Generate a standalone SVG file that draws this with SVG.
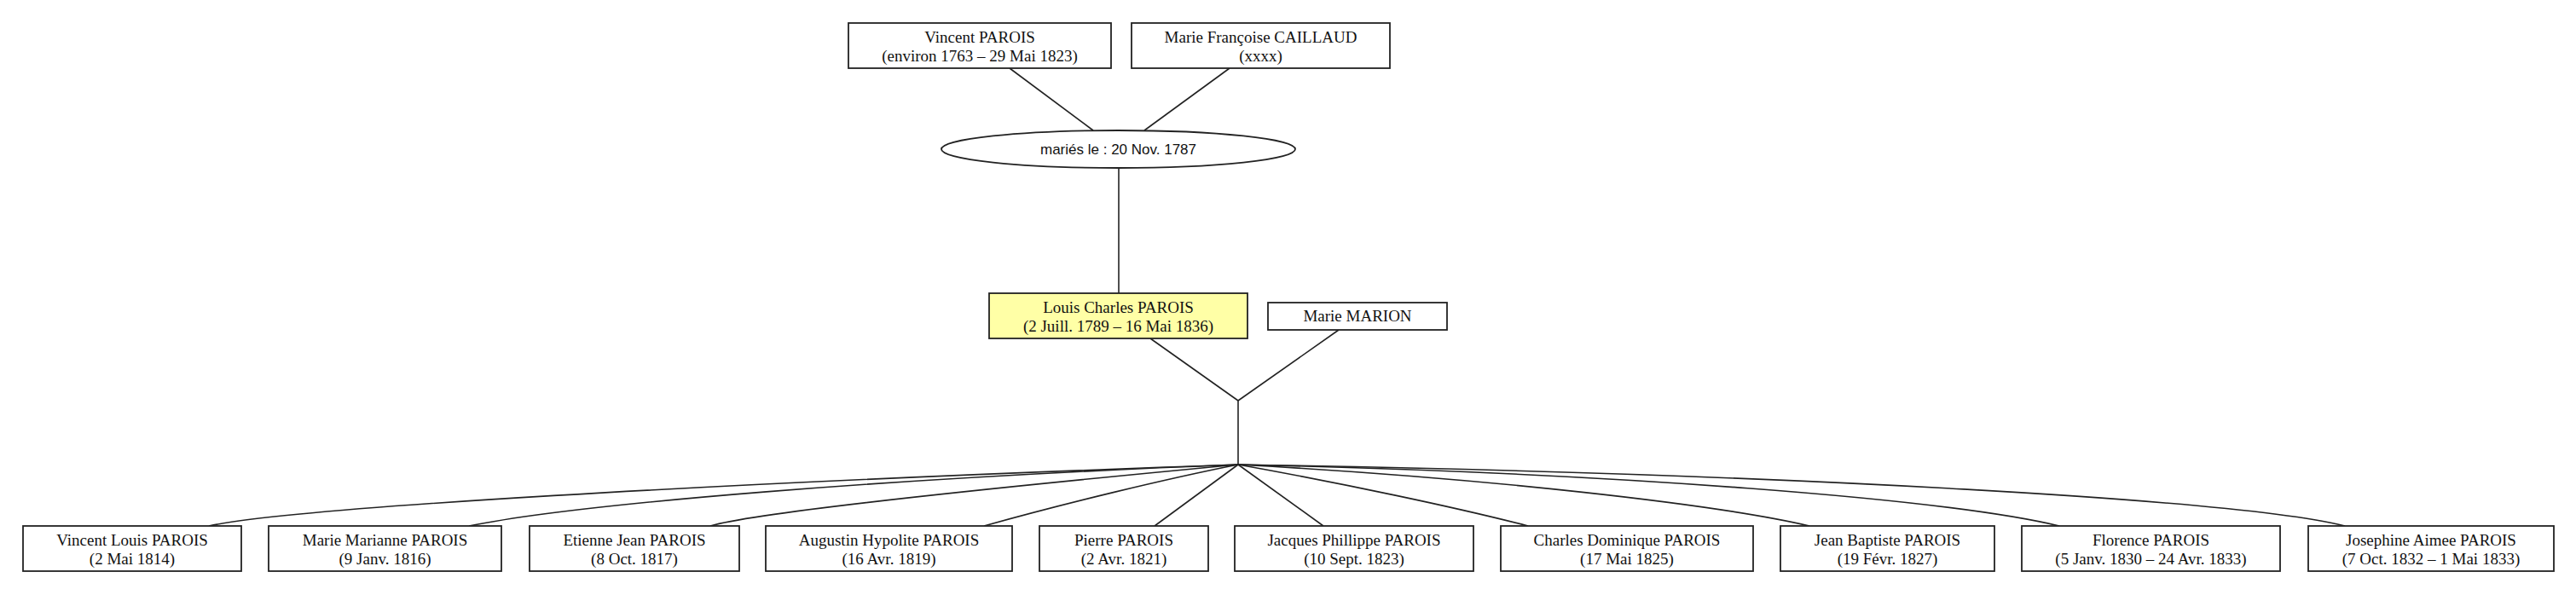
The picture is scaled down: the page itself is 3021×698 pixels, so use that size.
<svg xmlns="http://www.w3.org/2000/svg" width="3021" height="698" viewBox="0 0 3021 698">
<style>
.box{fill:#ffffff;stroke:#222222;stroke-width:1.8}
.hl{fill:#ffffa6}
.t{font-family:"Liberation Serif","Times New Roman",serif;font-size:19px;fill:#111111;text-anchor:middle}
.s{font-family:"Liberation Sans",Arial,sans-serif;font-size:17px;fill:#111111;text-anchor:middle}
.e{fill:none;stroke:#222222;stroke-width:1.6}
</style>
<rect width="3021" height="698" fill="#ffffff"/>
<g id="connectors">
<path class="e" d="M1184,80 L1282,153"/>
<path class="e" d="M1442,80 L1342,153"/>
<path class="e" d="M1312,197 L1312,344"/>
<path class="e" d="M1349,397 L1452,470"/>
<path class="e" d="M1570,387 L1452,470"/>
<path class="e" d="M1452,470 L1452,545"/>
<path class="e" d="M1452,545 C824,567 342,596 245,617"/>
<path class="e" d="M1452,545 C1045,561 685,590 550,617"/>
<path class="e" d="M1452,545 C1080,580 880,603 833,617"/>
<path class="e" d="M1452,545 C1366,562 1247,591 1154,617"/>
<path class="e" d="M1452,545 L1354,617"/>
<path class="e" d="M1452,545 L1552,617"/>
<path class="e" d="M1452,545 C1575,567 1711,596 1792,617"/>
<path class="e" d="M1452,545 C1748,561 2015,592 2122,617"/>
<path class="e" d="M1452,545 C1896,555 2281,585 2415,617"/>
<path class="e" d="M1452,545 C2110,556 2630,587 2750,617"/>
</g>
<g id="vincent"><rect class="box" x="995" y="27" width="308" height="53"/><text class="t" x="1149" y="50">Vincent PAROIS</text><text class="t" x="1149" y="72">(environ 1763 – 29 Mai 1823)</text></g>
<g id="mariefrancoise"><rect class="box" x="1327" y="27" width="303" height="53"/><text class="t" x="1478.5" y="50">Marie Françoise CAILLAUD</text><text class="t" x="1478.5" y="72">(xxxx)</text></g>
<g id="mariage"><ellipse class="box" cx="1311.5" cy="175" rx="207.5" ry="22"/><text class="s" x="1311.5" y="181">mariés le : 20 Nov. 1787</text></g>
<g id="louis"><rect class="box hl" x="1160" y="344" width="303" height="53"/><text class="t" x="1311.5" y="367">Louis Charles PAROIS</text><text class="t" x="1311.5" y="389">(2 Juill. 1789 – 16 Mai 1836)</text></g>
<g id="mariemarion"><rect class="box" x="1487" y="355" width="210" height="32"/><text class="t" x="1592" y="377">Marie MARION</text></g>
<g id="c1"><rect class="box" x="27" y="617" width="256" height="53"/><text class="t" x="155" y="640">Vincent Louis PAROIS</text><text class="t" x="155" y="662">(2 Mai 1814)</text></g>
<g id="c2"><rect class="box" x="315" y="617" width="273" height="53"/><text class="t" x="451.5" y="640">Marie Marianne PAROIS</text><text class="t" x="451.5" y="662">(9 Janv. 1816)</text></g>
<g id="c3"><rect class="box" x="621" y="617" width="246" height="53"/><text class="t" x="744" y="640">Etienne Jean PAROIS</text><text class="t" x="744" y="662">(8 Oct. 1817)</text></g>
<g id="c4"><rect class="box" x="898" y="617" width="289" height="53"/><text class="t" x="1042.5" y="640">Augustin Hypolite PAROIS</text><text class="t" x="1042.5" y="662">(16 Avr. 1819)</text></g>
<g id="c5"><rect class="box" x="1219" y="617" width="198" height="53"/><text class="t" x="1318" y="640">Pierre PAROIS</text><text class="t" x="1318" y="662">(2 Avr. 1821)</text></g>
<g id="c6"><rect class="box" x="1448" y="617" width="280" height="53"/><text class="t" x="1588" y="640">Jacques Phillippe PAROIS</text><text class="t" x="1588" y="662">(10 Sept. 1823)</text></g>
<g id="c7"><rect class="box" x="1760" y="617" width="296" height="53"/><text class="t" x="1908" y="640">Charles Dominique PAROIS</text><text class="t" x="1908" y="662">(17 Mai 1825)</text></g>
<g id="c8"><rect class="box" x="2088" y="617" width="251" height="53"/><text class="t" x="2213.5" y="640">Jean Baptiste PAROIS</text><text class="t" x="2213.5" y="662">(19 Févr. 1827)</text></g>
<g id="c9"><rect class="box" x="2371" y="617" width="303" height="53"/><text class="t" x="2522.5" y="640">Florence PAROIS</text><text class="t" x="2522.5" y="662">(5 Janv. 1830 – 24 Avr. 1833)</text></g>
<g id="c10"><rect class="box" x="2707" y="617" width="288" height="53"/><text class="t" x="2851" y="640">Josephine Aimee PAROIS</text><text class="t" x="2851" y="662">(7 Oct. 1832 – 1 Mai 1833)</text></g>
</svg>
